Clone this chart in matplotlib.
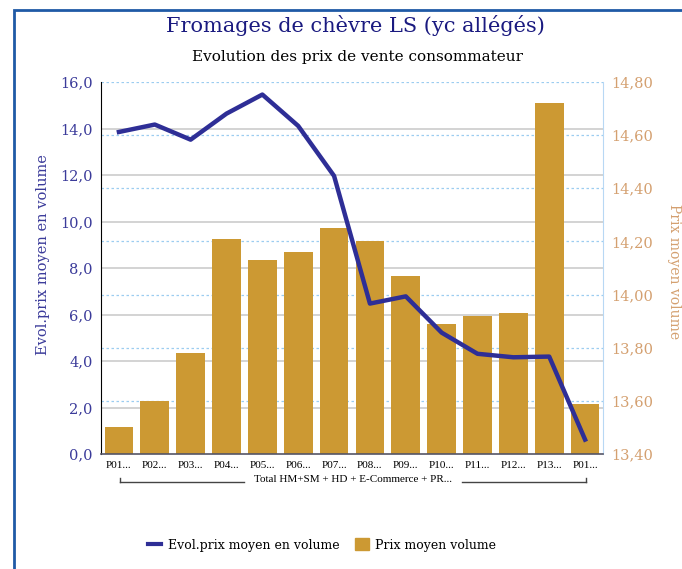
import matplotlib
matplotlib.use("Agg")
import matplotlib.pyplot as plt
from matplotlib.patches import Rectangle
from matplotlib.lines import Line2D
import numpy as np

categories = ["P01...", "P02...", "P03...", "P04...", "P05...", "P06...", "P07...",
              "P08...", "P09...", "P10...", "P11...", "P12...", "P13...", "P01..."]
evol_prix = [13.85, 14.17, 13.52, 14.64, 15.46, 14.11, 11.96,
             6.47, 6.78, 5.22, 4.31, 4.16, 4.19, 0.62]
prix_moyen = [13.50, 13.60, 13.78, 14.21, 14.13, 14.16, 14.25,
              14.20, 14.07, 13.89, 13.92, 13.93, 14.72, 13.59]
group_label = "Total HM+SM + HD + E-Commerce + PR..."
left_ticks = [0, 2, 4, 6, 8, 10, 12, 14, 16]
right_ticks = [13.4, 13.6, 13.8, 14.0, 14.2, 14.4, 14.6, 14.8]

W, H = 682, 569
fig = plt.figure(figsize=(W / 100, H / 100), dpi=100)
plt.rcParams['font.family'] = ['DejaVu Serif']

blue_txt = "#3b3b9a"
tan_txt = "#d4a070"
bar_col = "#cc9933"
line_col = "#2e2e96"

ax = fig.add_axes([101 / W, 1 - 454 / H, (603 - 101) / W, (454 - 82) / H])
ax2 = ax.twinx()

x = np.arange(len(categories))

# bars on right axis
ax2.bar(x, prix_moyen, width=0.8, color=bar_col, bottom=0, zorder=2)
ax2.set_ylim(13.4, 14.8)
ax2.set_yticks(right_ticks)
ax2.set_yticklabels([f"{v:.2f}".replace(".", ",") for v in right_ticks])
ax2.tick_params(axis='y', colors=tan_txt, labelsize=10.5, length=0, pad=6)
for t in ax2.get_yticklabels():
    t.set_color(tan_txt)
for v in right_ticks[1:]:
    ax2.axhline(v, color="#9ccdf0", lw=0.9, ls=(0, (2, 2)), zorder=1)
ax2.set_ylabel("Prix moyen volume", color=tan_txt, rotation=270, fontsize=10)
ax2.yaxis.set_label_coords((681 - 101) / (603 - 101), (454 - 272) / 372)

# line on left axis, drawn above bars
ax.set_zorder(ax2.get_zorder() + 1)
ax.patch.set_visible(False)
ax.plot(x, evol_prix, color=line_col, lw=3.2, zorder=5)
ax.set_ylim(0, 16)
ax.set_yticks(left_ticks)
ax.set_yticklabels([f"{v:.1f}".replace(".", ",") for v in left_ticks])
ax.tick_params(axis='y', colors=blue_txt, labelsize=10.5, length=0, pad=6)
for t in ax.get_yticklabels():
    t.set_color(blue_txt)
for v in left_ticks[1:-1]:
    ax2.axhline(13.4 + v / 16 * 1.4, color="#cccccc", lw=1.2, zorder=1)
ax.set_ylabel("Evol.prix moyen en volume", color=blue_txt, fontsize=10.5)
ax.yaxis.set_label_coords((50 - 101) / (603 - 101), (454 - 255) / 372)

ax.set_xlim(-0.5, len(categories) - 0.5)
ax.set_xticks(x)
ax.set_xticklabels(categories, fontsize=8, family=['Liberation Serif'])
ax.tick_params(axis='x', length=0, pad=5)

for a in (ax, ax2):
    a.spines['top'].set_visible(False)
ax.spines['left'].set_color("black")
ax.spines['bottom'].set_color("#555566")
ax.spines['bottom'].set_linewidth(1.2)
ax.spines['right'].set_visible(False)
ax2.spines['left'].set_visible(False)
ax2.spines['bottom'].set_visible(False)
ax2.spines['right'].set_color("#b8d8f4")

# group bracket
y_br = 1 - 482 / H
x0 = 120 / W
x1 = 586 / W
fig.add_artist(Line2D([x0, x0], [y_br, y_br + 4 / H], color="#444444", lw=1))
fig.add_artist(Line2D([x1, x1], [y_br, y_br + 4 / H], color="#444444", lw=1))
fig.add_artist(Line2D([x0, 244 / W], [y_br, y_br], color="#444444", lw=1))
fig.add_artist(Line2D([462 / W, x1], [y_br, y_br], color="#444444", lw=1))
fig.text(353 / W, 1 - 479 / H, group_label, fontsize=8, ha='center', va='center',
         family=['Liberation Serif'])

# titles
fig.text(355 / W, 1 - 26 / H, "Fromages de chèvre LS (yc allégés)", fontsize=15,
         color="#1a1a80", ha='center', va='center')
fig.text(357 / W, 1 - 57 / H, "Evolution des prix de vente consommateur", fontsize=11,
         color="black", ha='center', va='center')

# legend
handles = [Line2D([0], [0], color=line_col, lw=3),
           Rectangle((0, 0), 1, 1, color=bar_col)]
fig.legend(handles, ["Evol.prix moyen en volume", "Prix moyen volume"],
           loc='center', bbox_to_anchor=(322 / W, 1 - 545 / H), ncol=2, frameon=False,
           fontsize=9, handlelength=1.1, handleheight=1.1, columnspacing=1.3, handletextpad=0.5)

# frame border
fig.add_artist(Rectangle((14 / W, -0.1), 1.2, 1 - 10 / H + 0.1, fill=False,
                         edgecolor="#1f5aa6", lw=2, transform=fig.transFigure, clip_on=False))

fig.savefig("out.png", dpi=100)
